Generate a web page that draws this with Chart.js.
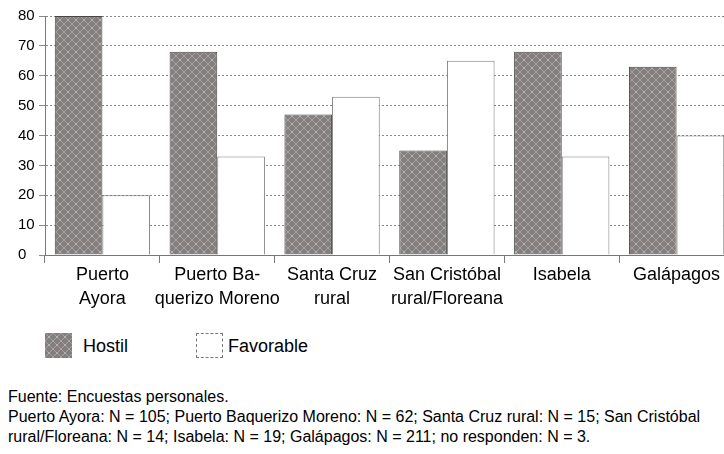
<!DOCTYPE html>
<html>
<head>
<meta charset="utf-8">
<script src="https://cdn.jsdelivr.net/npm/chart.js@4.4.1/dist/chart.umd.min.js"></script>
<style>
  html, body { margin: 0; padding: 0; background: #fff; width: 724px; height: 454px; overflow: hidden; position: relative; font-family: "Liberation Sans", Arial, sans-serif; color: #000; }
  #wrap { position: absolute; left: 0; top: 0; width: 740px; height: 315px; }
  .lgbox { position: absolute; width: 27px; height: 25px; box-sizing: border-box; }
  .lgtxt { position: absolute; font-size: 18px; line-height: 24px; color: #000; }
  .note { position: absolute; left: 8px; font-size: 16px; line-height: 20px; white-space: nowrap; color: #000; }
</style>
</head>
<body>
<div id="wrap"><canvas id="c" width="740" height="315"></canvas></div>
<div class="lgbox" id="lgHostil" style="left:45px; top:333px;"></div>
<div class="lgtxt" id="lgHostilTxt" style="left:83px; top:334px;"></div>
<div class="lgbox" id="lgFav" style="left:196px; top:333px; background:#fff; border:1px dashed #777;"></div>
<div class="lgtxt" id="lgFavTxt" style="left:228px; top:334px;"></div>
<div class="note" style="top:387px;">Fuente: Encuestas personales.</div>
<div class="note" style="top:407px;">Puerto Ayora: N = 105; Puerto Baquerizo Moreno: N = 62; Santa Cruz rural: N = 15; San Cristóbal</div>
<div class="note" style="top:427px;">rural/Floreana: N = 14; Isabela: N = 19; Galápagos: N = 211; no responden: N = 3.</div>
<script>
const categories = [["Puerto", "Ayora"], ["Puerto Ba-", "querizo Moreno"], ["Santa Cruz", "rural"], ["San Cristóbal", "rural/Floreana"], ["Isabela"], ["Galápagos"]];
const seriesNames = ["Hostil", "Favorable"];
const hostil = [80, 68, 47, 35, 68, 63];
const favorable = [20, 33, 53, 65, 33, 40];
const yTicks = [0, 10, 20, 30, 40, 50, 60, 70, 80];

// crosshatch pattern for "Hostil"
const pc = document.createElement('canvas');
pc.width = 8; pc.height = 8;
const px = pc.getContext('2d');
px.fillStyle = '#847e7c';
px.fillRect(0, 0, 8, 8);
px.fillStyle = '#a8a3a1';
for (let i = 0; i < 8; i++) {
  px.fillRect(i, i, 1, 1);
  px.fillRect(7 - i, i, 1, 1);
}
px.fillStyle = '#a3b4c2';
px.fillRect(3, 3, 2, 2);
const ctx = document.getElementById('c').getContext('2d');
const hostilPattern = ctx.createPattern(pc, 'repeat');
document.getElementById('lgHostil').style.background = 'url(' + pc.toDataURL() + ')';
document.getElementById('lgHostilTxt').textContent = seriesNames[0];
document.getElementById('lgFavTxt').textContent = seriesNames[1];

new Chart(ctx, {
  type: 'bar',
  data: {
    labels: categories,
    datasets: [
      { label: seriesNames[0], data: hostil, backgroundColor: hostilPattern, borderColor: '#4a4646', borderWidth: 1, borderSkipped: 'bottom', categoryPercentage: 0.83, barPercentage: 1.0 },
      { label: seriesNames[1], data: favorable, backgroundColor: '#ffffff', borderColor: '#7a7a7a', borderWidth: 1, borderSkipped: 'bottom', categoryPercentage: 0.83, barPercentage: 1.0 }
    ]
  },
  options: {
    responsive: false,
    animation: false,
    layout: { padding: { left: 18, right: 6, top: 16, bottom: 0 } },
    plugins: { legend: { display: false }, tooltip: { enabled: false } },
    scales: {
      x: {
        offset: true,
        grid: { drawOnChartArea: false, drawTicks: true, tickLength: 8, color: '#777', offset: true },
        border: { display: true, color: '#777', dash: [2, 2] },
        ticks: { color: '#000', font: { family: '"Liberation Sans", Arial, sans-serif', size: 18, lineHeight: 1.33 }, padding: 0, maxRotation: 0, autoSkip: false },
        afterFit: (s) => { s.height = 60; }
      },
      y: {
        min: 0, max: 80,
        afterBuildTicks: (s) => { s.ticks = yTicks.map(v => ({ value: v })); },
        grid: { color: '#8a8a8a', tickLength: 6, drawTicks: true },
        border: { display: true, color: '#777', dash: [2, 2] },
        ticks: { color: '#000', crossAlign: 'far', font: { family: '"Liberation Sans", Arial, sans-serif', size: 15 }, padding: 2 },
        afterFit: (s) => { s.width = 27; }
      }
    }
  }
});
</script>
</body>
</html>
